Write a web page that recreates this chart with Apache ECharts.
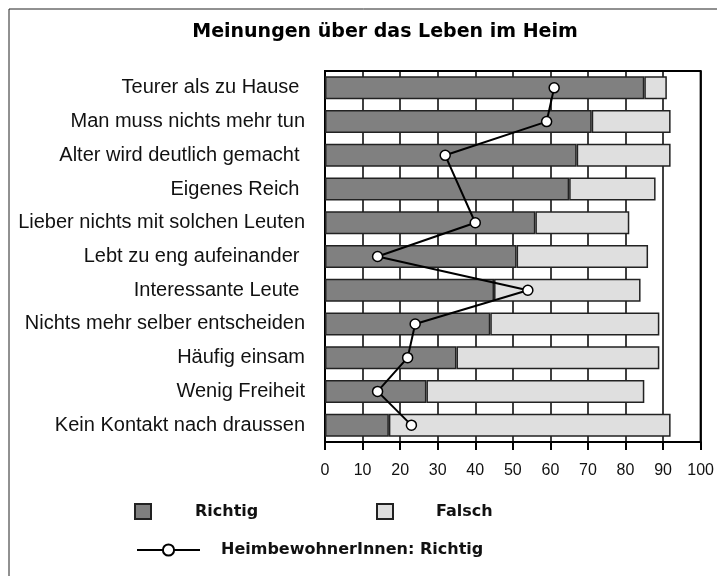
<!DOCTYPE html>
<html>
<head>
<meta charset="utf-8">
<script src="https://cdn.jsdelivr.net/npm/echarts@6/dist/echarts.min.js"></script>
<style>
  html, body { margin: 0; padding: 0; background: #fff; }
  #main { width: 717px; height: 576px; }
</style>
</head>
<body>
<div id="main"></div>
<script>
// Kategorien (von oben nach unten)
var categories = [
  'Teurer als zu Hause ',
  'Man muss nichts mehr tun',
  'Alter wird deutlich gemacht ',
  'Eigenes Reich ',
  'Lieber nichts mit solchen Leuten',
  'Lebt zu eng aufeinander ',
  'Interessante Leute ',
  'Nichts mehr selber entscheiden',
  'Häufig einsam',
  'Wenig Freiheit',
  'Kein Kontakt nach draussen'
];
var richtig = [85, 71, 67, 65, 56, 51, 45, 44, 35, 27, 17];
var falsch = [6, 21, 25, 23, 25, 35, 39, 45, 54, 58, 75];
// HeimbewohnerInnen: Richtig (kein Wert bei "Eigenes Reich")
var heimRichtig = [61, 59, 32, null, 40, 14, 54, 24, 22, 14, 23];
var xTicks = [0, 10, 20, 30, 40, 50, 60, 70, 80, 90, 100];

var labelFont = 'Liberation Sans, Arial, sans-serif';
var boldFont = 'DejaVu Sans, sans-serif';

var myChart = echarts.init(document.getElementById('main'));
myChart.setOption({
  animation: false,
  backgroundColor: '#fff',
  title: {
    text: 'Meinungen über das Leben im Heim',
    left: 385,
    top: 23,
    padding: 0,
    textAlign: 'center',
    textStyle: { fontFamily: boldFont, fontWeight: 'bold', fontSize: 19, color: '#000' }
  },
  graphic: [{
    type: 'rect',
    shape: { x: 9, y: 9, width: 800, height: 700 },
    style: { fill: 'none', stroke: '#222', lineWidth: 1 },
    silent: true
  }],
  legend: [
    {
      data: ['Richtig'],
      left: 134, top: 503,
      padding: 0,
      icon: 'rect',
      itemWidth: 16, itemHeight: 15,
      selectedMode: false,
      textStyle: { fontFamily: boldFont, fontWeight: 'bold', fontSize: 16, color: '#111', padding: [0, 0, 0, 39] }
    },
    {
      data: ['Falsch'],
      left: 376, top: 503,
      padding: 0,
      icon: 'rect',
      itemWidth: 16, itemHeight: 15,
      selectedMode: false,
      textStyle: { fontFamily: boldFont, fontWeight: 'bold', fontSize: 16, color: '#111', padding: [0, 0, 0, 38] }
    },
    {
      data: ['HeimbewohnerInnen: Richtig'],
      left: 136, top: 542,
      padding: 0,
      itemWidth: 63, itemHeight: 14,
      selectedMode: false,
      textStyle: { fontFamily: boldFont, fontWeight: 'bold', fontSize: 16, color: '#111', padding: [0, 0, 0, 16] }
    }
  ],
  grid: {
    left: 325,
    right: 14,
    top: 71,
    bottom: 134,
    show: true,
    borderColor: '#000',
    borderWidth: 2,
    backgroundColor: 'transparent'
  },
  xAxis: {
    type: 'value',
    min: xTicks[0],
    max: xTicks[xTicks.length - 1],
    interval: 10,
    axisLine: { show: true, lineStyle: { color: '#000', width: 2 } },
    axisTick: { show: true, length: 8, lineStyle: { color: '#000', width: 2 } },
    axisLabel: { margin: 21, fontFamily: labelFont, fontSize: 16, color: '#111' },
    splitLine: { show: true, lineStyle: { color: '#000', width: 1.5 } }
  },
  yAxis: {
    type: 'category',
    data: categories,
    inverse: true,
    axisLine: { show: true, lineStyle: { color: '#000', width: 2 } },
    axisTick: { show: false },
    axisLabel: { margin: 20, fontFamily: labelFont, fontSize: 20, color: '#111' },
    splitLine: { show: false }
  },
  series: [
    {
      name: 'Richtig',
      type: 'bar',
      stack: 'total',
      barWidth: 23,
      data: richtig,
      itemStyle: { color: '#808080', borderColor: '#222', borderWidth: 1.5 }
    },
    {
      name: 'Falsch',
      type: 'bar',
      stack: 'total',
      barWidth: 23,
      data: falsch,
      itemStyle: { color: '#dfdfdf', borderColor: '#222', borderWidth: 1.5 }
    },
    {
      name: 'HeimbewohnerInnen: Richtig',
      type: 'line',
      data: heimRichtig,
      connectNulls: true,
      symbol: 'circle',
      symbolSize: 10,
      z: 5,
      lineStyle: { color: '#000', width: 2 },
      itemStyle: { color: '#fff', borderColor: '#000', borderWidth: 1.5 }
    }
  ]
});
</script>
</body>
</html>
